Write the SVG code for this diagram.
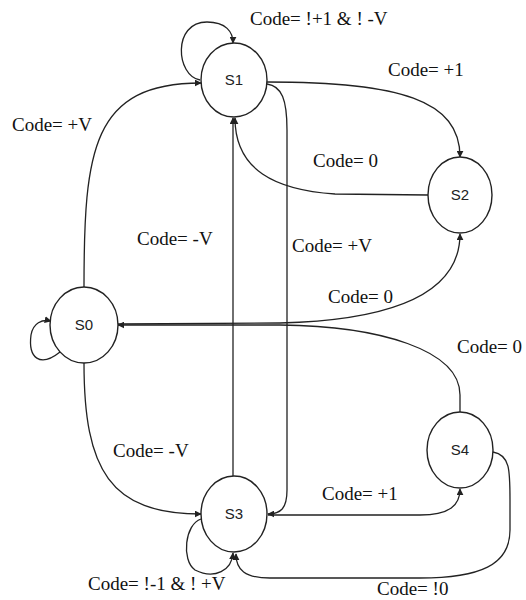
<svg xmlns="http://www.w3.org/2000/svg" width="526" height="600" viewBox="0 0 526 600">
<defs>
<marker id="arr" viewBox="0 0 10 10" refX="9" refY="5" markerWidth="7" markerHeight="7" markerUnits="userSpaceOnUse" orient="auto">
<path d="M0,0 L10,5 L0,10 z" fill="#222"/>
</marker>
<style>
.node ellipse{fill:#fff;stroke:#222;stroke-width:1.4}
.node text{font-family:'Liberation Sans',Arial,sans-serif;font-size:15px;fill:#222;text-anchor:middle}
.edge{fill:none;stroke:#222;stroke-width:1.3}
.lbl{font-family:'Liberation Serif','DejaVu Serif',serif;font-size:19px;fill:#111}
</style>
</defs>
<rect width="526" height="600" fill="#fff"/>
<g id="connectors">
<path class="edge" marker-end="url(#arr)" d="M84,287 C84,150 92,83 201,83"/>
<path class="edge" marker-end="url(#arr)" d="M200,80 C176,76 172,22 207,22 C226,22 233,32 233,43"/>
<path class="edge" marker-end="url(#arr)" d="M267,82 C400,82 460,100 460,157"/>
<path class="edge" marker-end="url(#arr)" d="M428,195 L335,194 C275,190 235,170 235,118"/>
<path class="edge" marker-end="url(#arr)" d="M267,84 C282,86 287,100 287,130 L287,490 C287,508 281,514 268,514"/>
<path class="edge" marker-end="url(#arr)" d="M233,476 L233,118"/>
<path class="edge" marker-end="url(#arr)" d="M118,324 L280,323 C400,320 460,290 460,234"/>
<path class="edge" marker-end="url(#arr)" d="M460,412 L460,395 C460,350 380,326 280,325 L118,325"/>
<path class="edge" marker-end="url(#arr)" d="M60,352 C40,368 28,358 31,335 C33,323 42,319 51,321"/>
<path class="edge" marker-end="url(#arr)" d="M84,363 C84,470 110,514 201,514"/>
<path class="edge" marker-end="url(#arr)" d="M201,519 C185,524 181,560 195,570 C215,580 232,570 233,553"/>
<path class="edge" marker-end="url(#arr)" d="M268,515 L420,515 C450,515 460,505 460,489"/>
<path class="edge" marker-end="url(#arr)" d="M493,452 C510,455 510,470 510,500 L510,530 C510,565 480,578 420,578 L270,578 C245,578 236,570 236,554"/>
</g>
<g id="S0" class="node"><ellipse cx="84" cy="325" rx="34" ry="38"/><text x="84" y="330">S0</text></g>
<g id="S1" class="node"><ellipse cx="234" cy="80" rx="33" ry="37"/><text x="234" y="85">S1</text></g>
<g id="S2" class="node"><ellipse cx="460" cy="195" rx="32" ry="38"/><text x="460" y="200">S2</text></g>
<g id="S3" class="node"><ellipse cx="234" cy="514" rx="33" ry="38"/><text x="234" y="519">S3</text></g>
<g id="S4" class="node"><ellipse cx="460" cy="450" rx="33" ry="38"/><text x="460" y="455">S4</text></g>
<g id="labels" font-family="Liberation Serif, DejaVu Serif, serif" font-size="19">
<text class="lbl" x="250" y="25">Code= !+1 &amp; ! -V</text>
<text class="lbl" x="12" y="131">Code= +V</text>
<text class="lbl" x="388" y="76">Code= +1</text>
<text class="lbl" x="313" y="167">Code= 0</text>
<text class="lbl" x="137" y="245">Code= -V</text>
<text class="lbl" x="292" y="252">Code= +V</text>
<text class="lbl" x="328" y="303">Code= 0</text>
<text class="lbl" x="457" y="353">Code= 0</text>
<text class="lbl" x="113" y="457">Code= -V</text>
<text class="lbl" x="322" y="500">Code= +1</text>
<text class="lbl" x="88" y="590">Code= !-1 &amp; ! +V</text>
<text class="lbl" x="377" y="595">Code= !0</text>
</g>
</svg>
